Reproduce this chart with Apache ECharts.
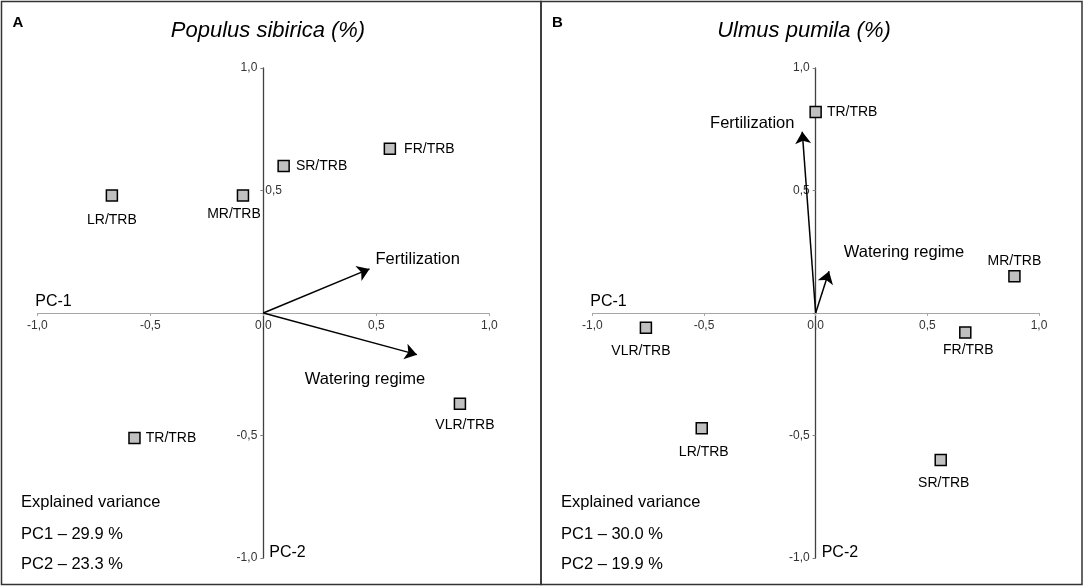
<!DOCTYPE html>
<html>
<head>
<meta charset="UTF-8">
<title>PCA biplots</title>
<script src="https://cdn.jsdelivr.net/npm/echarts@6/dist/echarts.min.js"></script>
<style>
  html, body { margin: 0; padding: 0; background: #fff; }
  #chart { width: 1084px; height: 587px; }
</style>
</head>
<body>
<div id="chart"></div>
<script>
// panel A - Populus sibirica
var pointNamesA = ['LR/TRB', 'MR/TRB', 'SR/TRB', 'FR/TRB', 'VLR/TRB', 'TR/TRB'];
var pc1A = [-0.67, -0.09, 0.09, 0.56, 0.87, -0.57];
var pc2A = [0.48, 0.48, 0.60, 0.67, -0.37, -0.51];
var vectorNamesA = ['Fertilization', 'Watering regime'];
var vecPc1A = [0.47, 0.68];
var vecPc2A = [0.18, -0.17];
var varianceA = ['29.9', '23.3'];

// panel B - Ulmus pumila
var pointNamesB = ['TR/TRB', 'MR/TRB', 'VLR/TRB', 'FR/TRB', 'LR/TRB', 'SR/TRB'];
var pc1B = [0.00, 0.89, -0.76, 0.67, -0.51, 0.56];
var pc2B = [0.82, 0.15, -0.06, -0.08, -0.47, -0.60];
var vectorNamesB = ['Fertilization', 'Watering regime'];
var vecPc1B = [-0.06, 0.06];
var vecPc2B = [0.74, 0.17];
var varianceB = ['30.0', '19.9'];

var FONT = "'Liberation Sans', Arial, sans-serif";

// grid boxes (px); axes are pushed to the middle with offset
var gridA = { left: 37.3, top: 68, width: 452, height: 490 };
var gridB = { left: 592.3, top: 68, width: 446.7, height: 490 };

// where each label sits next to its marker
var pointLabelA = {
  'LR/TRB':  { position: 'bottom', distance: 11 },
  'MR/TRB':  { position: 'bottom', distance: 5, offset: [-9, 0] },
  'SR/TRB':  { position: 'right', distance: 6 },
  'FR/TRB':  { position: 'right', distance: 8 },
  'VLR/TRB': { position: 'bottom', distance: 8, offset: [5, 0] },
  'TR/TRB':  { position: 'right', distance: 5 }
};
var pointLabelB = {
  'TR/TRB':  { position: 'right', distance: 5 },
  'MR/TRB':  { position: 'top', distance: 2 },
  'VLR/TRB': { position: 'bottom', distance: 10, offset: [-5, 0] },
  'FR/TRB':  { position: 'bottom', distance: 4, offset: [3, 0] },
  'LR/TRB':  { position: 'bottom', distance: 11, offset: [2, 0] },
  'SR/TRB':  { position: 'bottom', distance: 10, offset: [3, 0] }
};
var vectorLabelA = {
  'Fertilization':   { position: 'right', distance: 0, offset: [6, -9] },
  'Watering regime': { position: 'inside', offset: [-52, 25] }
};
var vectorLabelB = {
  'Fertilization':   { position: 'inside', offset: [-50, -8] },
  'Watering regime': { position: 'inside', offset: [75, -19] }
};

function fmt(v) {
  return v.toFixed(1).replace('.', ',');
}

function pointData(names, xs, ys, place) {
  return names.map(function (n, i) {
    var p = place[n];
    return {
      name: n,
      value: [xs[i], ys[i]],
      label: {
        show: true,
        formatter: n,
        position: p.position,
        distance: p.distance,
        offset: p.offset || [0, 0]
      }
    };
  });
}

function arrowData(xs, ys) {
  return xs.map(function (x, i) {
    return { coords: [[0, 0], [x, ys[i]]] };
  });
}

function arrowLabelData(names, xs, ys, place) {
  return names.map(function (n, i) {
    var p = place[n];
    return {
      name: n,
      value: [xs[i], ys[i]],
      label: {
        show: true,
        formatter: n,
        position: p.position,
        distance: p.distance || 0,
        offset: p.offset
      }
    };
  });
}

function xAxisFor(gridIndex, g) {
  return {
    type: 'value', gridIndex: gridIndex, position: 'bottom',
    offset: -g.height / 2,
    min: -1, max: 1, interval: 0.5,
    name: 'PC-1', nameLocation: 'start', nameGap: 0,
    nameTextStyle: { align: 'left', verticalAlign: 'bottom', fontSize: 16, color: '#000', fontFamily: FONT, padding: [0, 0, 3, -2] },
    axisLine: { onZero: false, lineStyle: { color: '#a6a6a6', width: 1 } },
    axisTick: { show: true, length: 3, lineStyle: { color: '#a6a6a6' } },
    axisLabel: { formatter: fmt, fontSize: 12, color: '#333', fontFamily: FONT, margin: 7 },
    splitLine: { show: false }
  };
}

function yAxisFor(gridIndex, g, hide) {
  return {
    type: 'value', gridIndex: gridIndex, position: 'left',
    offset: -g.width / 2,
    min: -1, max: 1, interval: 0.5,
    name: 'PC-2', nameLocation: 'start', nameGap: 0,
    nameTextStyle: { align: 'left', verticalAlign: 'bottom', fontSize: 16, color: '#000', fontFamily: FONT, padding: [0, 0, -3, 6] },
    axisLine: { onZero: false, lineStyle: { color: '#404040', width: 1.3 } },
    axisTick: { show: true, length: 3, lineStyle: { color: '#808080' } },
    axisLabel: {
      fontSize: 12, color: '#333', fontFamily: FONT, margin: 6,
      formatter: function (v) { return (v === 0 || hide.indexOf(v) >= 0) ? '' : fmt(v); }
    },
    splitLine: { show: false }
  };
}

// panel A shows its 0,5 label on the right of the vertical axis
var secondYA = {
  type: 'value', gridIndex: 0, position: 'left',
  offset: -gridA.width / 2,
  min: -1, max: 1, interval: 0.5,
  axisLine: { show: false, onZero: false },
  axisTick: { show: false },
  axisLabel: {
    inside: true, margin: 2, fontSize: 12, color: '#333', fontFamily: FONT,
    formatter: function (v) { return v === 0.5 ? fmt(v) : ''; }
  },
  splitLine: { show: false }
};

var labelFont = { fontSize: 14, color: '#000', fontFamily: FONT };
var vecFont = { fontSize: 16.5, color: '#000', fontFamily: FONT };

function panelSeries(idx, names, xs, ys, place, vNames, vx, vy, vPlace) {
  return [
    {
      type: 'lines', coordinateSystem: 'cartesian2d', xAxisIndex: idx, yAxisIndex: idx,
      data: arrowData(vx, vy),
      symbol: ['none', 'arrow'], symbolSize: 12,
      lineStyle: { color: '#000', width: 1.5, opacity: 1 },
      silent: true, z: 3
    },
    {
      type: 'scatter', xAxisIndex: idx, yAxisIndex: idx,
      data: arrowLabelData(vNames, vx, vy, vPlace),
      symbolSize: 0,
      itemStyle: { opacity: 1 },
      label: vecFont,
      silent: true, z: 4
    },
    {
      type: 'scatter', xAxisIndex: idx, yAxisIndex: idx,
      data: pointData(names, xs, ys, place),
      symbol: 'rect', symbolSize: 11,
      itemStyle: { color: '#c0c0c0', borderColor: '#000', borderWidth: 1.5, opacity: 1 },
      label: labelFont,
      z: 5
    }
  ];
}

function varianceText(left, vals) {
  var lines = ['Explained variance', 'PC1 \u2013 ' + vals[0] + ' %', 'PC2 \u2013 ' + vals[1] + ' %'];
  var ys = [502, 534, 564];
  return lines.map(function (t, i) {
    return {
      type: 'text', x: left, y: ys[i],
      style: { text: t, fill: '#000', font: '16.5px ' + FONT, verticalAlign: 'middle' }
    };
  });
}

var chart = echarts.init(document.getElementById('chart'), null, { renderer: 'canvas' });

chart.setOption({
  animation: false,
  title: [
    { text: 'Populus sibirica (%)', left: 263, top: 15, textAlign: 'center',
      textStyle: { fontSize: 22, fontStyle: 'italic', fontWeight: 'normal', color: '#000', fontFamily: FONT } },
    { text: 'Ulmus pumila (%)', left: 799, top: 15, textAlign: 'center',
      textStyle: { fontSize: 22, fontStyle: 'italic', fontWeight: 'normal', color: '#000', fontFamily: FONT } }
  ],
  grid: [gridA, gridB],
  xAxis: [xAxisFor(0, gridA), xAxisFor(1, gridB)],
  yAxis: [yAxisFor(0, gridA, [0.5]), yAxisFor(1, gridB, []), secondYA],
  series: []
    .concat(panelSeries(0, pointNamesA, pc1A, pc2A, pointLabelA, vectorNamesA, vecPc1A, vecPc2A, vectorLabelA))
    .concat(panelSeries(1, pointNamesB, pc1B, pc2B, pointLabelB, vectorNamesB, vecPc1B, vecPc2B, vectorLabelB)),
  graphic: [
    { type: 'rect', shape: { x: 1.5, y: 1.5, width: 539.5, height: 583 },
      style: { fill: 'none', stroke: '#333', lineWidth: 1.5 }, silent: true },
    { type: 'rect', shape: { x: 541, y: 1.5, width: 541, height: 583 },
      style: { fill: 'none', stroke: '#333', lineWidth: 1.5 }, silent: true },
    { type: 'text', x: 12.5, y: 23,
      style: { text: 'A', fill: '#000', font: 'bold 15px ' + FONT, verticalAlign: 'middle' } },
    { type: 'text', x: 552, y: 23,
      style: { text: 'B', fill: '#000', font: 'bold 15px ' + FONT, verticalAlign: 'middle' } }
  ].concat(varianceText(21, varianceA)).concat(varianceText(561, varianceB))
});
</script>
</body>
</html>
